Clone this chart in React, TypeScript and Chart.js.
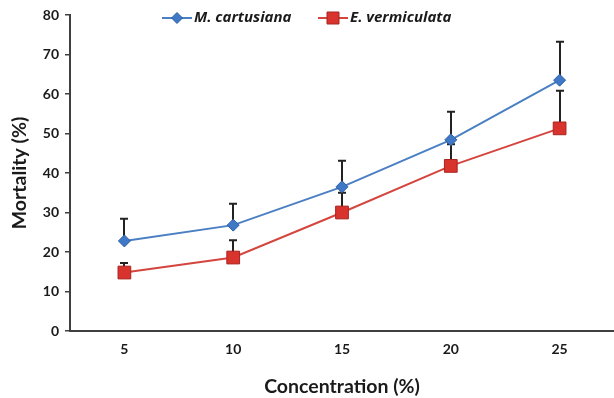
import React, { useEffect, useRef } from "react";
import { Chart, registerables } from "chart.js";

Chart.register(...registerables);

const categories = ["5", "10", "15", "20", "25"];
const mCartusiana = [22.8, 26.8, 36.5, 48.4, 63.5];
const mCartusianaErr = [5.6, 5.4, 6.6, 7.1, 9.7];
const eVermiculata = [14.8, 18.6, 30.0, 41.8, 51.3];
const eVermiculataErr = [2.4, 4.4, 5.0, 5.5, 9.5];
const yTicks = [0, 10, 20, 30, 40, 50, 60, 70, 80];
const seriesNames = ["M. cartusiana", "E. vermiculata"];

const BLUE_LINE = "#4a7fc3";
const BLUE_FILL = "#3f78c6";
const BLUE_BORDER = "#2f5f9f";
const RED_LINE = "#d4453e";
const RED_FILL = "#d8332d";
const RED_BORDER = "#a82420";
const FONT = "Lato";
const TEXT = "#1a1a1a";
const AXIS = "#404040";

const errorBarPlugin = {
  id: "errorBars",
  beforeDatasetsDraw(chart: any) {
    const ctx = chart.ctx;
    const yScale = chart.scales.y;
    const errs = [mCartusianaErr, eVermiculataErr];
    ctx.save();
    ctx.strokeStyle = "#222222";
    ctx.lineWidth = 2;
    chart.data.datasets.forEach((ds: any, di: number) => {
      const meta = chart.getDatasetMeta(di);
      meta.data.forEach((pt: any, i: number) => {
        const v = ds.data[i];
        const top = yScale.getPixelForValue(v + errs[di][i]);
        const base = yScale.getPixelForValue(v);
        const x = Math.round(pt.x);
        ctx.beginPath();
        ctx.moveTo(x, base);
        ctx.lineTo(x, top);
        ctx.moveTo(x - 4, top);
        ctx.lineTo(x + 4, top);
        ctx.stroke();
      });
    });
    ctx.restore();
  },
};

const legendPlugin = {
  id: "customLegend",
  afterDraw(chart: any) {
    const ctx = chart.ctx;
    const y = 18;
    const items = [
      { x: 162, label: seriesNames[0], line: BLUE_LINE, fill: BLUE_FILL, border: BLUE_BORDER, diamond: true },
      { x: 318, label: seriesNames[1], line: RED_LINE, fill: RED_FILL, border: RED_BORDER, diamond: false },
    ];
    ctx.save();
    items.forEach((it) => {
      ctx.strokeStyle = it.line;
      ctx.lineWidth = 2;
      ctx.beginPath();
      ctx.moveTo(it.x, y);
      ctx.lineTo(it.x + 30, y);
      ctx.stroke();
      ctx.fillStyle = it.fill;
      ctx.strokeStyle = it.border;
      ctx.lineWidth = 1;
      const cx = it.x + 15;
      ctx.beginPath();
      if (it.diamond) {
        const r = 5.5;
        ctx.moveTo(cx, y - r);
        ctx.lineTo(cx + r, y);
        ctx.lineTo(cx, y + r);
        ctx.lineTo(cx - r, y);
        ctx.closePath();
      } else {
        ctx.rect(cx - 6, y - 6, 12, 12);
      }
      ctx.fill();
      ctx.stroke();
      ctx.fillStyle = TEXT;
      ctx.font = `italic bold 15px "Open Sans"`;
      ctx.textBaseline = "middle";
      ctx.textAlign = "left";
      ctx.fillText(it.label, it.x + 32, y);
    });
    ctx.restore();
  },
};

export default function App() {
  const canvasRef = useRef<HTMLCanvasElement | null>(null);

  useEffect(() => {
    document.body.style.margin = "0";
    const canvas = canvasRef.current;
    if (!canvas) return;
    const chart = new Chart(canvas, {
      type: "line",
      data: {
        labels: categories,
        datasets: [
          {
            label: seriesNames[0],
            data: mCartusiana,
            borderColor: BLUE_LINE,
            backgroundColor: BLUE_FILL,
            pointBorderColor: BLUE_BORDER,
            pointBorderWidth: 1,
            pointStyle: "rectRot",
            pointRadius: 6,
            borderWidth: 2,
            tension: 0,
          },
          {
            label: seriesNames[1],
            data: eVermiculata,
            borderColor: RED_LINE,
            backgroundColor: RED_FILL,
            pointBorderColor: RED_BORDER,
            pointBorderWidth: 1,
            pointStyle: "rect",
            pointRadius: 9,
            borderWidth: 2,
            tension: 0,
          },
        ],
      },
      options: {
        animation: false,
        responsive: false,
        layout: { autoPadding: false, padding: { top: 15, right: 0, left: 0, bottom: 0 } },
        plugins: {
          legend: { display: false },
          tooltip: { enabled: false },
        },
        scales: {
          x: {
            offset: true,
            grid: { display: false, drawTicks: false },
            border: { display: true, color: AXIS, width: 2 },
            ticks: {
              color: TEXT,
              font: { family: FONT, size: 14, weight: "bold" },
              padding: 10,
            },
            title: {
              display: true,
              text: "Concentration (%)",
              color: TEXT,
              font: { family: FONT, size: 19.5, weight: "bold" },
              padding: { top: 10, bottom: 0 },
            },
            afterFit(scale: any) {
              scale.height = 67;
              scale.paddingLeft = 0;
              scale.paddingRight = 0;
            },
          },
          y: {
            min: 0,
            max: 80,
            afterBuildTicks(scale: any) {
              scale.ticks = yTicks.map((v) => ({ value: v }));
            },
            grid: {
              display: true,
              drawOnChartArea: false,
              drawTicks: true,
              tickLength: 5,
              color: AXIS,
              lineWidth: 1.5,
            },
            border: { display: true, color: AXIS, width: 2 },
            ticks: {
              color: TEXT,
              font: { family: FONT, size: 14, weight: "bold" },
              padding: 6,
            },
            title: {
              display: true,
              text: "Mortality (%)",
              color: TEXT,
              font: { family: FONT, size: 19.5, weight: "bold" },
              padding: { top: 8, bottom: 0 },
            },
            afterFit(scale: any) {
              scale.width = 70;
            },
          },
        },
      },
      plugins: [errorBarPlugin, legendPlugin],
    } as any);
    return () => chart.destroy();
  }, []);

  return (
    <div style={{ width: 614, height: 398 }}>
      <canvas ref={canvasRef} width={614} height={398} style={{ display: "block" }} />
    </div>
  );
}
